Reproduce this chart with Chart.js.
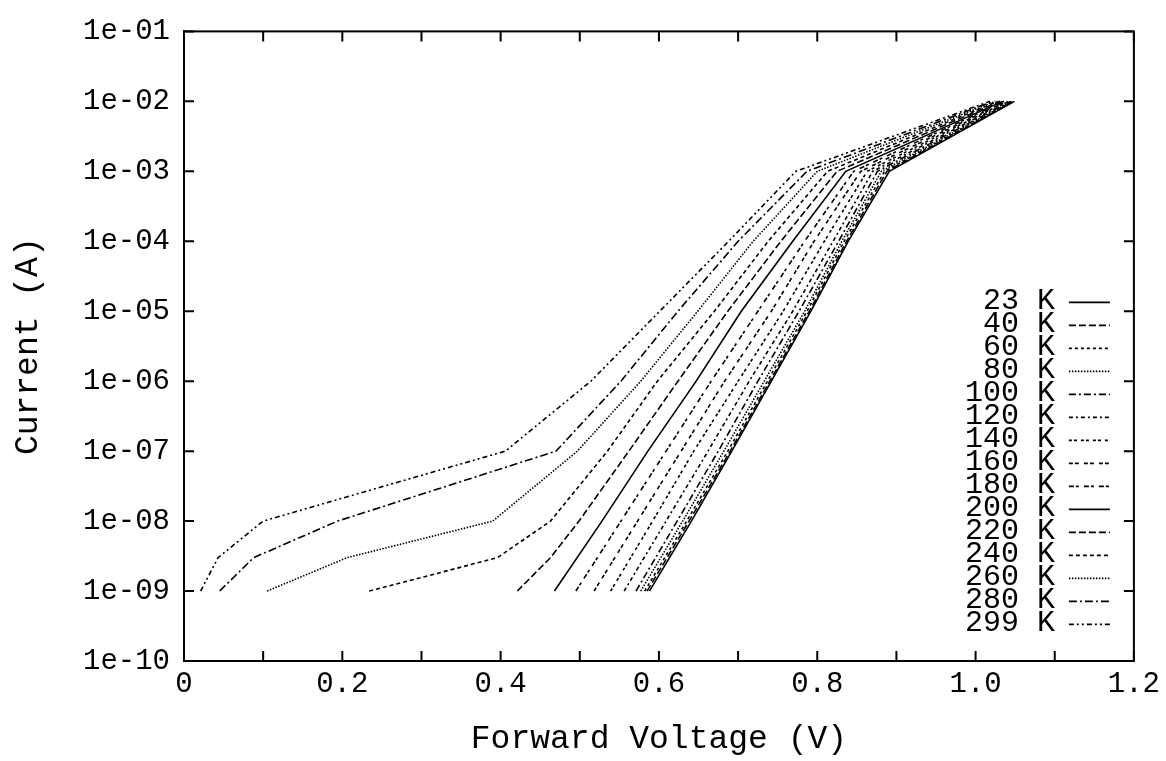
<!DOCTYPE html>
<html>
<head>
<meta charset="utf-8">
<script src="https://cdn.jsdelivr.net/npm/chart.js@4.4.1/dist/chart.umd.min.js"></script>
<style>
  html, body { margin: 0; padding: 0; background: #fff; }
</style>
</head>
<body>
<canvas id="chart" width="1166" height="761"></canvas>
<script>
// forward current levels (A) at which the voltage was read
const current = [1e-9, 3e-9, 1e-8, 1e-7, 1e-6, 1e-5, 1e-4, 1e-3, 1e-2];

// forward voltage (V) per temperature, one entry per current level (null = no point)
const v23  = [0.588, null,  0.641, 0.692, 0.742, 0.792, 0.839, 0.891, 1.049];
const v40  = [0.585, null,  0.638, 0.690, 0.740, 0.790, 0.837, 0.888, 1.048];
const v60  = [0.582, null,  0.635, 0.687, 0.737, 0.787, 0.834, 0.885, 1.047];
const v80  = [0.577, null,  0.630, 0.682, 0.733, 0.784, 0.831, 0.881, 1.046];
const v100 = [0.571, null,  0.623, 0.675, 0.725, 0.777, 0.827, 0.876, 1.044];
const v120 = [0.556, null,  0.609, 0.662, 0.714, 0.769, 0.820, 0.870, 1.042];
const v140 = [0.539, null,  0.592, 0.644, 0.700, 0.757, 0.809, 0.863, 1.040];
const v160 = [0.518, null,  0.573, 0.628, 0.683, 0.742, 0.796, 0.855, 1.038];
const v180 = [0.495, null,  0.552, 0.609, 0.666, 0.725, 0.784, 0.846, 1.036];
const v200 = [0.468, null,  0.528, 0.586, 0.647, 0.704, 0.769, 0.836, 1.034];
const v220 = [0.421, 0.463, 0.499, 0.562, 0.624, 0.687, 0.754, 0.825, 1.031];
const v240 = [0.234, 0.396, 0.463, 0.535, 0.598, 0.670, 0.738, 0.813, 1.028];
const v260 = [0.105, 0.206, 0.390, 0.497, 0.577, 0.649, 0.719, 0.800, 1.025];
const v280 = [0.045, 0.088, 0.194, 0.470, 0.552, 0.624, 0.700, 0.787, 1.022];
const v299 = [0.021, 0.043, 0.100, 0.406, 0.514, 0.601, 0.688, 0.773, 1.018];

const temps = ['23 K', '40 K', '60 K', '80 K', '100 K', '120 K', '140 K', '160 K',
               '180 K', '200 K', '220 K', '240 K', '260 K', '280 K', '299 K'];
const volts = [v23, v40, v60, v80, v100, v120, v140, v160, v180, v200, v220, v240, v260, v280, v299];

const yTickValues = [1e-10, 1e-9, 1e-8, 1e-7, 1e-6, 1e-5, 1e-4, 1e-3, 1e-2, 1e-1];
const yTickLabels = ['1e-10', '1e-09', '1e-08', '1e-07', '1e-06', '1e-05', '1e-04', '1e-03', '1e-02', '1e-01'];
const xTickLabels = ['0', '0.2', '0.4', '0.6', '0.8', '1.0', '1.2'];

const dashes = [
  [], [7, 3], [3, 3], [1.5, 1.5], [7, 3, 2, 3], [4, 3, 2, 3], [3, 2, 3, 4], [4, 2, 4, 5],
  [5, 2, 3, 5], [], [7, 3], [4, 3], [1.5, 1.5], [8, 3, 2, 3], [5, 3, 2, 3, 2, 3]
];

const MONO = "'Liberation Mono', 'DejaVu Sans Mono', monospace";
Chart.defaults.font.family = MONO;
Chart.defaults.color = '#000';

const datasets = temps.map((t, i) => ({
  label: t,
  data: current.map((c, k) => ({ x: volts[i][k], y: c })).filter(p => p.x !== null),
  borderColor: '#000',
  borderWidth: 1.6,
  borderDash: dashes[i],
  pointRadius: 0,
  fill: false,
  tension: 0
}));

// frame, inward tick marks and the key on the right
const decorations = {
  id: 'decorations',
  afterDatasetsDraw(chart) {
    const { ctx, chartArea: a, scales: { x, y } } = chart;
    ctx.save();
    ctx.strokeStyle = '#000';
    ctx.lineWidth = 2;
    ctx.setLineDash([]);
    ctx.strokeRect(a.left, a.top, a.right - a.left, a.bottom - a.top);
    ctx.beginPath();
    x.ticks.forEach(t => {
      const px = x.getPixelForValue(t.value);
      ctx.moveTo(px, a.bottom); ctx.lineTo(px, a.bottom - 10);
      ctx.moveTo(px, a.top); ctx.lineTo(px, a.top + 10);
    });
    y.ticks.forEach(t => {
      const py = y.getPixelForValue(t.value);
      ctx.moveTo(a.left, py); ctx.lineTo(a.left + 10, py);
      ctx.moveTo(a.right, py); ctx.lineTo(a.right - 10, py);
    });
    ctx.stroke();

    // key
    const textRight = a.right - 79;
    const top = a.top + 269;
    ctx.font = '30px ' + MONO;
    ctx.fillStyle = '#000';
    ctx.textAlign = 'right';
    ctx.textBaseline = 'middle';
    chart.data.datasets.forEach((ds, i) => {
      const yy = top + i * 23;
      ctx.fillText(ds.label, textRight, yy + 1);
      ctx.lineWidth = 1.6;
      ctx.setLineDash(ds.borderDash);
      ctx.beginPath();
      ctx.moveTo(a.right - 65, yy + 2);
      ctx.lineTo(a.right - 24, yy + 2);
      ctx.stroke();
    });
    ctx.restore();
  }
};

new Chart(document.getElementById('chart'), {
  type: 'line',
  data: { datasets },
  options: {
    responsive: false,
    animation: false,
    layout: { padding: { top: 23, right: 29, left: 0, bottom: 0 } },
    plugins: { legend: { display: false }, tooltip: { enabled: false } },
    scales: {
      x: {
        type: 'linear',
        min: 0,
        max: 1.2,
        afterFit: s => { s.height = 100; },
        ticks: {
          stepSize: 0.1,
          autoSkip: false,
          maxRotation: 0,
          padding: 6,
          font: { size: 29 },
          callback: v => {
            const k = Math.round(v * 10);
            return k % 2 === 0 ? xTickLabels[k / 2] : '';
          }
        },
        grid: { drawOnChartArea: false, drawTicks: false },
        border: { display: true, color: '#000', width: 2 },
        title: {
          display: true,
          text: 'Forward Voltage (V)',
          font: { size: 33 },
          padding: { top: 0, bottom: 2 }
        }
      },
      y: {
        type: 'logarithmic',
        min: 1e-10,
        max: 1e-1,
        afterFit: s => { s.width = 184; },
        afterBuildTicks: s => { s.ticks = yTickValues.map(v => ({ value: v })); },
        ticks: {
          autoSkip: false,
          padding: 14,
          font: { size: 29 },
          callback: v => yTickLabels[yTickValues.indexOf(v)]
        },
        grid: { drawOnChartArea: false, drawTicks: false },
        border: { display: true, color: '#000', width: 2 },
        title: {
          display: true,
          text: 'Current (A)',
          font: { size: 33 },
          padding: { top: 8, bottom: 0 }
        }
      }
    }
  },
  plugins: [decorations]
});
</script>
</body>
</html>
